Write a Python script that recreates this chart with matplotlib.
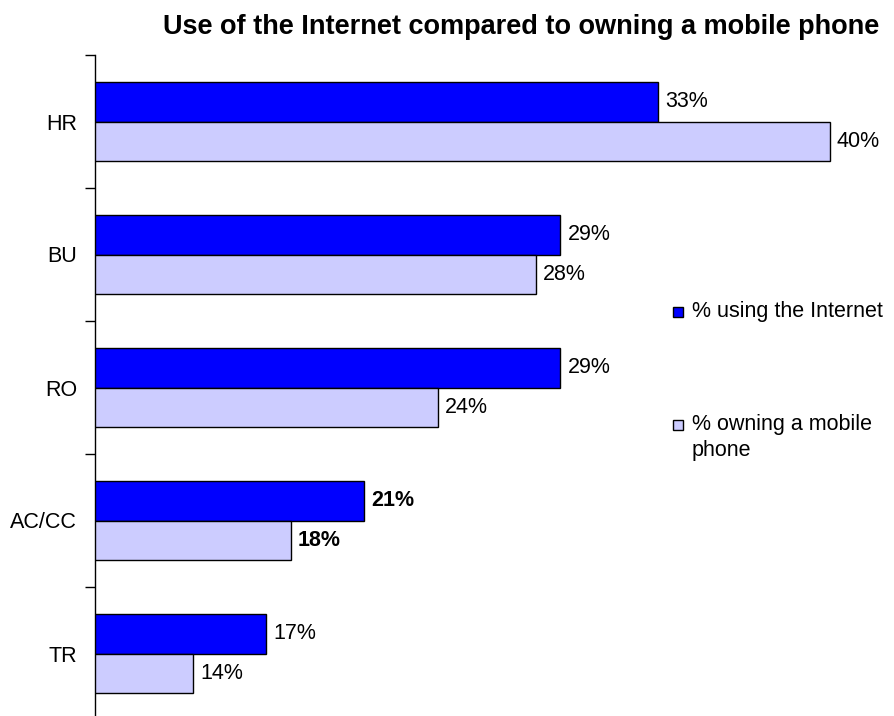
import numpy as np
import matplotlib.pyplot as plt
from matplotlib.patches import Rectangle

plt.rcParams['font.family'] = ['Liberation Sans', 'DejaVu Sans']

countries = ['HR', 'BU', 'RO', 'AC/CC', 'TR']
internet = [33, 29, 29, 21, 17]
mobile = [40, 28, 24, 18, 14]
bold_rows = ['AC/CC']
series_names = ['% using the Internet', '% owning a mobile\nphone']

c_internet = '#0000ff'
c_mobile = '#ccccff'
fs = 15.5

W, H = 895, 716
fig = plt.figure(figsize=(W / 100, H / 100), dpi=100)
x0, x_lo, x_hi = 95, 10, 41
px_per = 24.5
right = x0 + (x_hi - x_lo) * px_per
ax = fig.add_axes([x0 / W, -4 / H, (right - x0) / W, (720 - 55) / H])

n = len(countries)
pos = np.arange(n)
h = 0.3
ax.barh(pos - h / 2, internet, height=h, color=c_internet, edgecolor='black', linewidth=1)
ax.barh(pos + h / 2, mobile, height=h, color=c_mobile, edgecolor='black', linewidth=1)

for i, c in enumerate(countries):
    fw = 'bold' if c in bold_rows else 'normal'
    ax.annotate(f'{internet[i]}%', (internet[i], pos[i] - h / 2), xytext=(5, 0), textcoords='offset points',
                va='center', ha='left', fontsize=fs, fontweight=fw)
    ax.annotate(f'{mobile[i]}%', (mobile[i], pos[i] + h / 2), xytext=(5, 0), textcoords='offset points',
                va='center', ha='left', fontsize=fs, fontweight=fw)

ax.set_xlim(x_lo, x_hi)
ax.set_ylim(n - 0.5, -0.5)
ax.set_yticks(np.arange(n + 1) - 0.5)
ax.set_yticklabels([])
ax.set_yticks(pos, minor=True)
ax.set_yticklabels(countries, minor=True, fontsize=fs)
ax.tick_params(axis='y', which='major', length=7, direction='out', width=1)
ax.tick_params(axis='y', which='minor', length=0, pad=13)
ax.set_xticks([])
for s in ['top', 'right', 'bottom']:
    ax.spines[s].set_visible(False)
ax.spines['left'].set_linewidth(1)

fig.text(521 / W, 1 - 34 / H, 'Use of the Internet compared to owning a mobile phone',
         ha='center', va='baseline', fontsize=19.5, fontweight='bold')

# legend
for j, (lab, col) in enumerate(zip(series_names, [c_internet, c_mobile])):
    yc = [312, 425][j]
    fig.add_artist(Rectangle((673 / W, 1 - (yc + 5) / H), 10 / W, 10 / H,
                             transform=fig.transFigure, facecolor=col, edgecolor='black', linewidth=1))
    fig.text(692 / W, 1 - (yc - 11) / H, lab, ha='left', va='top', fontsize=fs, linespacing=1.3)

fig.savefig('out.png', dpi=100)
